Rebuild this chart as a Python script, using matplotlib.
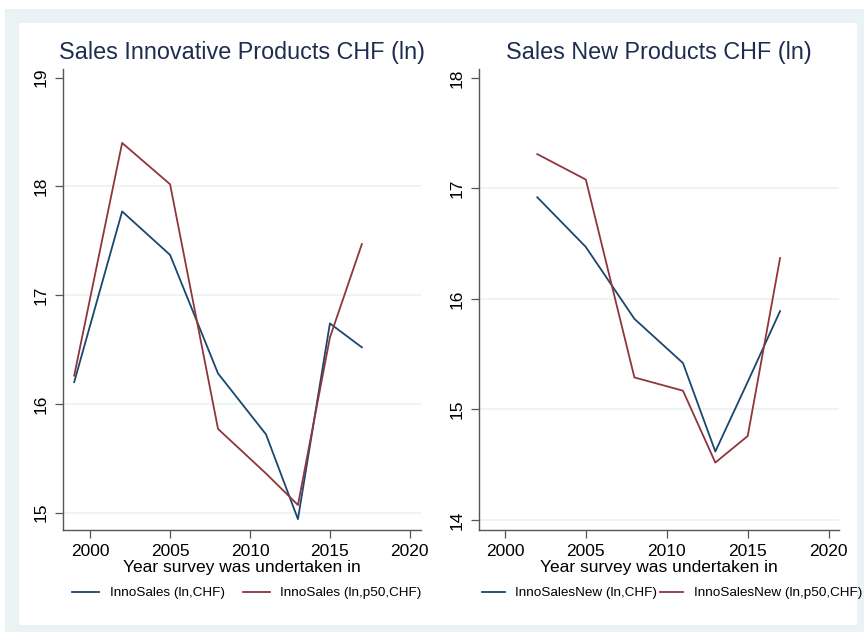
import matplotlib
matplotlib.use("Agg")
import matplotlib.pyplot as plt
from matplotlib.patches import Rectangle

plt.rcParams["font.family"] = ["Liberation Sans", "DejaVu Sans"]

# left panel: InnoSales
years_left = [1999, 2002, 2005, 2008, 2011, 2013, 2015, 2017]
inno_sales = [16.20, 17.77, 17.37, 16.28, 15.72, 14.94, 16.74, 16.52]
inno_sales_p50 = [16.26, 18.40, 18.02, 15.77, 15.36, 15.07, 16.61, 17.47]

# right panel: InnoSalesNew
years_right = [2002, 2005, 2008, 2011, 2013, 2015, 2017]
new_sales = [16.92, 16.47, 15.82, 15.42, 14.62, 15.25, 15.89]
new_sales_p50 = [17.31, 17.08, 15.29, 15.17, 14.52, 14.76, 16.37]

x_ticks = [2000, 2005, 2010, 2015, 2020]
y_ticks_left = [15, 16, 17, 18, 19]
y_ticks_right = [14, 15, 16, 17, 18]

BLUE = "#1a476f"
RED = "#90353b"
GRID = "#eaf2f3"
W, H = 864, 632

fig = plt.figure(figsize=(8.64, 6.32), dpi=100)


def box(x0, y0, x1, y1):
    return [x0 / W, 1 - y1 / H, (x1 - x0) / W, (y1 - y0) / H]


def rect(x0, y0, x1, y1, color):
    b = box(x0, y0, x1, y1)
    fig.patches.append(Rectangle((b[0], b[1]), b[2], b[3], transform=fig.transFigure,
                                 facecolor=color, edgecolor="none", zorder=-10))


rect(5, 9, 864, 632, GRID)
rect(19, 23, 857, 625, "white")


def panel(pos, years, s1, s2, yticks, xlim, ylim, title, tx, labels, legx, hl, cs):
    ax = fig.add_axes(box(*pos))
    ax.set_facecolor("none")
    for t in yticks[:-1]:
        ax.axhline(t, color=GRID, lw=1.2, zorder=0)
    l1, = ax.plot(years, s1, color=BLUE, lw=1.3, label=labels[0])
    l2, = ax.plot(years, s2, color=RED, lw=1.3, label=labels[1])
    ax.set_xlim(*xlim)
    ax.set_ylim(*ylim)
    ax.set_xticks(x_ticks)
    ax.set_yticks(yticks)
    ax.spines["top"].set_visible(False)
    ax.spines["right"].set_visible(False)
    for s in ("left", "bottom"):
        ax.spines[s].set_color("#555555")
        ax.spines[s].set_linewidth(1.0)
    ax.tick_params(length=6, width=0.9, color="#555555", labelsize=12.5, pad=4)
    for lab in ax.get_yticklabels():
        lab.set_rotation(90)
        lab.set_va("center")
    ax.set_xlabel("Year survey was undertaken in", fontsize=12.5, labelpad=1)
    fig.text(tx / W, 1 - 53 / H, title, ha="center", va="center", fontsize=16.8, color="#1e2d4f")
    fig.legend(handles=[l1, l2], loc="center", bbox_to_anchor=(legx / W, 1 - 593 / H), ncol=2,
               frameon=False, fontsize=9.7, handlelength=hl, handletextpad=0.8, columnspacing=cs)
    return ax


panel((63, 69, 421, 530), years_left, inno_sales, inno_sales_p50, y_ticks_left,
      (1998.3, 2020.7), (14.84, 19.08), "Sales Innovative Products CHF (ln)", 242,
      ["InnoSales (ln,CHF)", "InnoSales (ln,p50,CHF)"], 247, 2.0, 1.3)
panel((479, 69, 839, 530), years_right, new_sales, new_sales_p50, y_ticks_right,
      (1998.4, 2020.64), (13.91, 18.08), "Sales New Products CHF (ln)", 659,
      ["InnoSalesNew (ln,CHF)", "InnoSalesNew (ln,p50,CHF)"], 672, 1.7, 0.2)

fig.savefig("out.png", dpi=100)
